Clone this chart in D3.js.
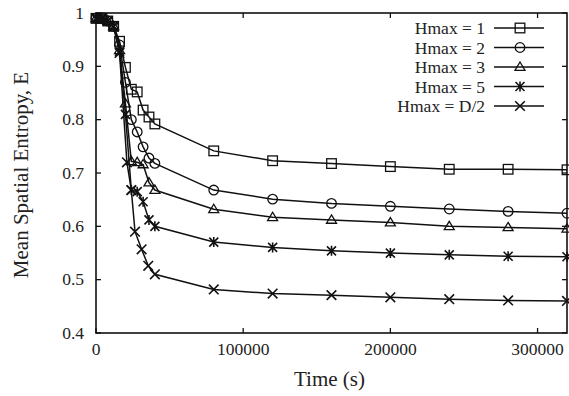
<!DOCTYPE html>
<html>
<head>
<meta charset="utf-8">
<script src="https://cdn.jsdelivr.net/npm/d3@7"></script>
<style>
  body { margin: 0; background: #fff; }
  text { font-family: "Liberation Serif", "DejaVu Serif", serif; fill: #222; }
</style>
</head>
<body>
<div id="chart"></div>
<script>
// series: [time (s), mean spatial entropy]
var hmax1 = [[0,.99],[4000,.99],[8000,.985],[12000,.975],[16000,.947],[20000,.898],[24000,.857],[28000,.852],[32000,.818],[36000,.805],[40000,.792],
  [80000,.7415],[120000,.723],[160000,.7177],[200000,.712],[240000,.707],[280000,.707],[320000,.706]];
var hmax2 = [[0,.99],[4000,.99],[8000,.985],[12000,.975],[16000,.94],[20000,.87],[24000,.80],[28000,.777],[32000,.749],[36000,.728],[40000,.718],
  [80000,.668],[120000,.651],[160000,.643],[200000,.6376],[240000,.6325],[280000,.628],[320000,.6245]];
var hmax3 = [[0,.99],[4000,.99],[8000,.985],[12000,.975],[16000,.93],[20000,.83],[24000,.722],[28000,.72],[32000,.716],[36000,.682],[40000,.668],
  [80000,.632],[120000,.617],[160000,.612],[200000,.607],[240000,.600],[280000,.598],[320000,.5955]];
var hmax5 = [[0,.99],[4000,.99],[8000,.985],[12000,.975],[16000,.928],[20000,.81],[24000,.668],[28000,.665],[32000,.646],[36000,.612],[40000,.60],
  [80000,.5705],[120000,.5605],[160000,.554],[200000,.5498],[240000,.5466],[280000,.544],[320000,.543]];
var hmaxD2 = [[0,.99],[4000,.99],[8000,.985],[12000,.975],[16000,.925],[21000,.72],[24000,.668],[26500,.59],[31000,.557],[35500,.526],[40000,.51],
  [80000,.4816],[120000,.474],[160000,.471],[200000,.467],[240000,.4634],[280000,.461],[320000,.4602]];

var labels = ["Hmax = 1", "Hmax = 2", "Hmax = 3", "Hmax = 5", "Hmax = D/2"];
var symbols = ["square", "circle", "triangle", "star", "cross"];
var xTicks = [0, 100000, 200000, 300000];
var yTicks = [0.4, 0.5, 0.6, 0.7, 0.8, 0.9, 1];

var series = [hmax1, hmax2, hmax3, hmax5, hmaxD2];

var W = 569, H = 396;
var margin = {top: 13, right: 2, bottom: 63, left: 96},
    width = W - margin.left - margin.right,
    height = H - margin.top - margin.bottom;

var svg = d3.select("#chart").append("svg")
    .attr("width", W)
    .attr("height", H);
var g = svg.append("g")
    .attr("transform", "translate(" + margin.left + "," + margin.top + ")");

var x = d3.scaleLinear().domain([0, 320000]).range([0, width]);
var y = d3.scaleLinear().domain([0.4, 1]).range([height, 0]);

// ticks, inward on all four sides
var tl = 5;
xTicks.forEach(function(t) {
  g.append("line").attr("x1", x(t)).attr("x2", x(t)).attr("y1", height).attr("y2", height - tl)
    .attr("stroke", "#111").attr("stroke-width", 1.3);
  g.append("line").attr("x1", x(t)).attr("x2", x(t)).attr("y1", 0).attr("y2", tl)
    .attr("stroke", "#111").attr("stroke-width", 1.3);
  g.append("text").attr("x", x(t)).attr("y", height + 22)
    .attr("text-anchor", "middle").style("font-size", "17.5px").text(t);
});
yTicks.forEach(function(t) {
  g.append("line").attr("x1", 0).attr("x2", tl).attr("y1", y(t)).attr("y2", y(t))
    .attr("stroke", "#111").attr("stroke-width", 1.3);
  g.append("line").attr("x1", width).attr("x2", width - tl).attr("y1", y(t)).attr("y2", y(t))
    .attr("stroke", "#111").attr("stroke-width", 1.3);
  g.append("text").attr("x", -12).attr("y", y(t) + 5.5)
    .attr("text-anchor", "end").style("font-size", "17.5px")
    .text(t === 1 ? "1" : t.toFixed(1));
});

g.append("rect").attr("width", width).attr("height", height)
  .attr("fill", "none").attr("stroke", "#111").attr("stroke-width", 1.6);

// axis titles
svg.append("text").attr("x", margin.left + width / 2 - 2).attr("y", H - 10)
  .attr("text-anchor", "middle").style("font-size", "21px").text("Time (s)");
svg.append("text").attr("transform", "translate(28," + (margin.top + height / 2 + 2) + ") rotate(-90)")
  .attr("text-anchor", "middle").style("font-size", "21px").text("Mean Spatial Entropy, E");

function marker(sel, type) {
  var s = 4.8;
  if (type === "square") {
    sel.append("rect").attr("x", -s).attr("y", -s).attr("width", 2 * s).attr("height", 2 * s)
      .attr("fill", "none").attr("stroke", "#111").attr("stroke-width", 1.3);
  } else if (type === "circle") {
    sel.append("circle").attr("r", s).attr("fill", "none").attr("stroke", "#111").attr("stroke-width", 1.3);
  } else if (type === "triangle") {
    sel.append("path").attr("d", "M0,-5L5,3.3L-5,3.3Z")
      .attr("fill", "none").attr("stroke", "#111").attr("stroke-width", 1.3);
  } else if (type === "star") {
    sel.append("path").attr("d", "M-4.5,-4.5L4.5,4.5M-4.5,4.5L4.5,-4.5M0,-5L0,5")
      .attr("stroke", "#111").attr("stroke-width", 1.6);
  } else {
    sel.append("path").attr("d", "M-4.8,-4.8L4.8,4.8M-4.8,4.8L4.8,-4.8")
      .attr("stroke", "#111").attr("stroke-width", 1.6);
  }
}

var line = d3.line()
    .x(function(d) { return x(d[0]); })
    .y(function(d) { return y(d[1]); });

series.forEach(function(data, i) {
  g.append("path").datum(data).attr("d", line)
    .attr("fill", "none").attr("stroke", "#111").attr("stroke-width", 1.5);
  g.selectAll(".m" + i).data(data).enter().append("g")
    .attr("class", "m" + i)
    .attr("transform", function(d) { return "translate(" + x(d[0]) + "," + y(d[1]) + ")"; })
    .each(function() { marker(d3.select(this), symbols[i]); });
});

// legend
var lg = svg.append("g").attr("transform", "translate(0,28)");
labels.forEach(function(l, i) {
  var row = lg.append("g").attr("transform", "translate(0," + (i * 19.5) + ")");
  row.append("text").attr("x", 485).attr("y", 6).attr("text-anchor", "end")
    .style("font-size", "17.5px").text(l);
  row.append("line").attr("x1", 494).attr("x2", 544).attr("y1", 0).attr("y2", 0)
    .attr("stroke", "#111").attr("stroke-width", 1.5);
  var mk = row.append("g").attr("transform", "translate(520,0)");
  marker(mk, symbols[i]);
});
</script>
</body>
</html>
